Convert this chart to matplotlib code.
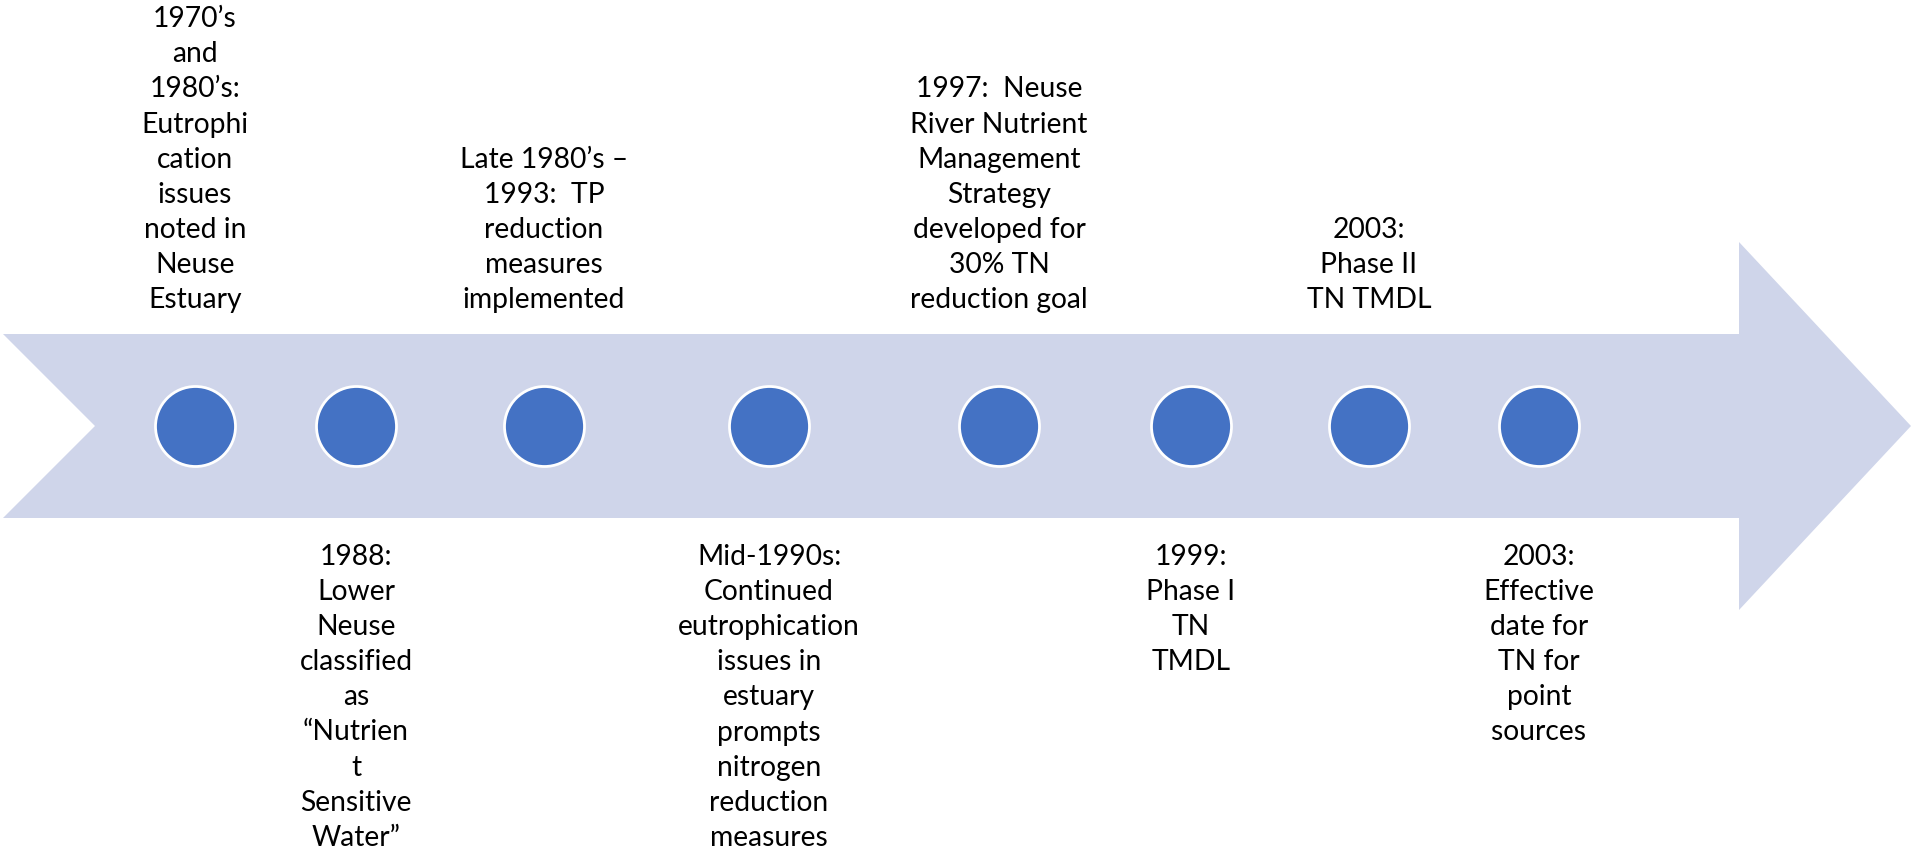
import matplotlib
matplotlib.use("Agg")
import matplotlib.pyplot as plt
from matplotlib.patches import Polygon

# ---- data ----
event_x = [195, 356, 544, 769, 999, 1191, 1369, 1539]   # event positions along the timeline (px)
top_labels = [
    ["1970\u2019s", "and", "1980\u2019s:", "Eutrophi", "cation", "issues", "noted in", "Neuse", "Estuary"],
    ["Late 1980\u2019s \u2013", "1993:  TP", "reduction", "measures", "implemented"],
    ["1997:  Neuse", "River Nutrient", "Management", "Strategy", "developed for", "30% TN", "reduction goal"],
    ["2003:", "Phase II", "TN TMDL"],
]
bottom_labels = [
    ["1988:", "Lower", "Neuse", "classified", "as", "\u201cNutrien", "t", "Sensitive", "Water\u201d"],
    ["Mid-1990s:", "Continued", "eutrophication", "issues in", "estuary", "prompts", "nitrogen", "reduction", "measures"],
    ["1999:", "Phase I", "TN", "TMDL"],
    ["2003:", "Effective", "date for", "TN for", "point", "sources"],
]

# ---- layout / style ----
W, H = 1911, 853
band_top, band_bot, mid_y = 335, 519, 427
notch_x, head_x, head_top, head_bot, tip_x = 95, 1739, 243, 611, 1911
band_color = "#CFD5EA"
dot_color = "#4472C4"
line_step = 35.1
top_last_baseline = 308
bottom_first_baseline = 565
fs = 20.3
font = ["Lato", "DejaVu Sans"]

fig = plt.figure(figsize=(W / 100, H / 100), dpi=100)
ax = fig.add_axes([0, 0, 1, 1])
ax.set_xlim(0, W)
ax.set_ylim(H, 0)
ax.axis("off")

arrow = Polygon([(3, band_top), (head_x, band_top), (head_x, head_top), (tip_x, mid_y),
                 (head_x, head_bot), (head_x, band_bot), (3, band_bot), (notch_x, mid_y)],
                closed=True, facecolor=band_color, edgecolor="none", zorder=1)
ax.add_patch(arrow)

d_pt = 80 * 72 / 100
ax.scatter(event_x, [mid_y] * len(event_x), s=d_pt ** 2, color=dot_color,
           edgecolors="white", linewidths=2.0, zorder=3)

for i, lines in enumerate(top_labels):
    x = event_x[2 * i]
    n = len(lines)
    for j, ln in enumerate(lines):
        y = top_last_baseline - (n - 1 - j) * line_step
        ax.text(x, y, ln, ha="center", va="baseline", fontsize=fs, family=font, color="black")

for i, lines in enumerate(bottom_labels):
    x = event_x[2 * i + 1]
    for j, ln in enumerate(lines):
        y = bottom_first_baseline + j * line_step
        ax.text(x, y, ln, ha="center", va="baseline", fontsize=fs, family=font, color="black")

fig.savefig("out.png", dpi=100)
